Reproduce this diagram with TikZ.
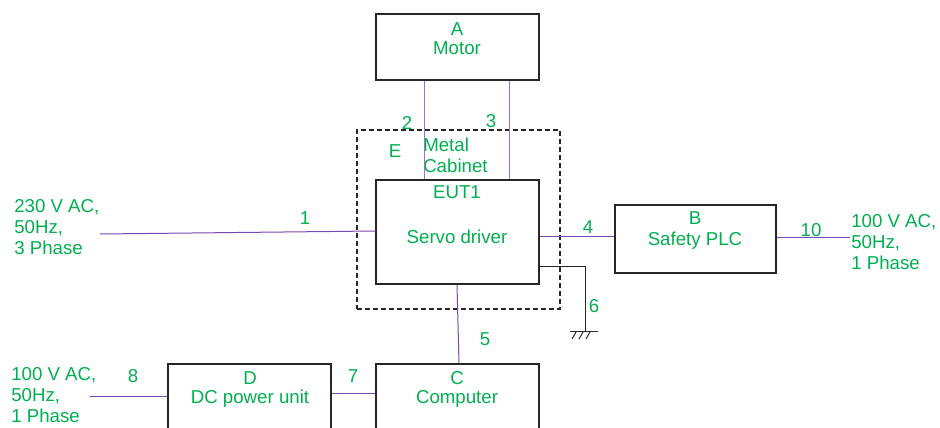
\documentclass[tikz,border=0pt]{standalone}
\usepackage{fontspec}
\setmainfont{Liberation Sans}
\usetikzlibrary{fit}
\definecolor{lblgreen}{HTML}{00B050}
\definecolor{wire}{HTML}{7B47B0}
\definecolor{wirelight}{HTML}{9C70CC}
\begin{document}
\begin{tikzpicture}[x=0.75pt,y=-0.75pt,
  box/.style={draw=black!85, line width=0.8pt, inner sep=0pt},
  cabinet/.style={draw=black!85, line width=0.8pt, inner sep=0pt, dash pattern=on 3.75pt off 2.25pt},
  lbl/.style={text=lblgreen, inner sep=0pt, font=\fontsize{14pt}{15.6pt}\selectfont},
  wirestyle/.style={draw=wire, line width=0.75pt},
  wirelt/.style={draw=wirelight, line width=0.75pt},
  gnd/.style={draw=black!85, line width=0.75pt}]
\clip (0,0) rectangle (940,428);
\fill[white] (0,0) rectangle (940,428);
% box corners
\coordinate (a1) at (376,14);  \coordinate (a2) at (539,80);
\coordinate (e1) at (357,130); \coordinate (e2) at (560,309);
\coordinate (u1) at (376,180); \coordinate (u2) at (539,284);
\coordinate (b1) at (615,205); \coordinate (b2) at (776,273);
\coordinate (c1) at (376,364); \coordinate (c2) at (539,440);
\coordinate (d1) at (168,364); \coordinate (d2) at (331,440);
% boxes
\node[cabinet, fit=(e1)(e2)] (E) {};
\node[box, fit=(a1)(a2)] (A) {};
\node[box, fit=(u1)(u2)] (EUT) {};
\node[box, fit=(b1)(b2)] (B) {};
\node[box, fit=(c1)(c2)] (C) {};
\node[box, fit=(d1)(d2)] (D) {};
% texts in boxes
\node[lbl] (tA) at (457,29) {A};
\node[lbl] (tMotor) at (457,48) {Motor};
\node[lbl] (tEUT) at (457,192) {EUT1};
\node[lbl] (tServo) at (457,237) {Servo driver};
\node[lbl] (tB) at (695,218) {B};
\node[lbl] (tPLC) at (695,241) {Safety PLC};
\node[lbl] (tC) at (457,378) {C};
\node[lbl] (tComp) at (457,399) {Computer};
\node[lbl] (tD) at (250,378) {D};
\node[lbl] (tDC) at (250,399) {DC power unit};
\node[lbl] (tE) at (395,151) {E};
\node[lbl, anchor=west, align=left] (tMetal) at (423,155) {Metal\\Cabinet};
% supply labels
\node[lbl, anchor=west, align=left] (s1) at (14,227) {230 V AC,\\50Hz,\\3 Phase};
\node[lbl, anchor=west, align=left] (s2) at (851,242) {100 V AC,\\50Hz,\\1 Phase};
\node[lbl, anchor=west, align=left] (s3) at (11,395) {100 V AC,\\50Hz,\\1 Phase};
% free ends
\coordinate (w1) at (100,234);
\coordinate (w8) at (90,396);
\coordinate (w10) at (850,237);
\coordinate (g6) at (585,331);
% wires
\draw[wirestyle] (w1) -- (EUT.west |- 0,231);
\draw[wirelt] (A.south -| 424,0) -- (EUT.north -| 424,0);
\draw[wirelt] (A.south -| 509,0) -- (EUT.north -| 509,0);
\draw[wirestyle] (EUT.east |- 0,236) -- (B.west |- 0,236);
\draw[wirestyle] (EUT.south -| 457,0) -- (C.north -| 459,0);
\draw[wirestyle] (D.east |- 0,393) -- (C.west |- 0,393);
\draw[wirestyle] (w8) -- (D.west |- w8);
\draw[wirestyle] (B.east |- w10) -- (w10);
% ground
\draw[gnd] (EUT.east |- 0,266) -- (g6 |- 0,266) -- (g6);
\draw[gnd] (570,331) -- (598,331);
\draw[gnd] (572,339) -- (576,332) (579,339) -- (583,332) (586,339) -- (590,332);
% numbers
\node[lbl] (n1) at (305,218) {1};
\node[lbl] (n2) at (407,123) {2};
\node[lbl] (n3) at (491,121) {3};
\node[lbl] (n4) at (588,227) {4};
\node[lbl] (n5) at (485,339) {5};
\node[lbl] (n6) at (594,306) {6};
\node[lbl] (n7) at (353,376) {7};
\node[lbl] (n8) at (133,376) {8};
\node[lbl] (n10) at (811,230) {10};
\end{tikzpicture}
\end{document}
